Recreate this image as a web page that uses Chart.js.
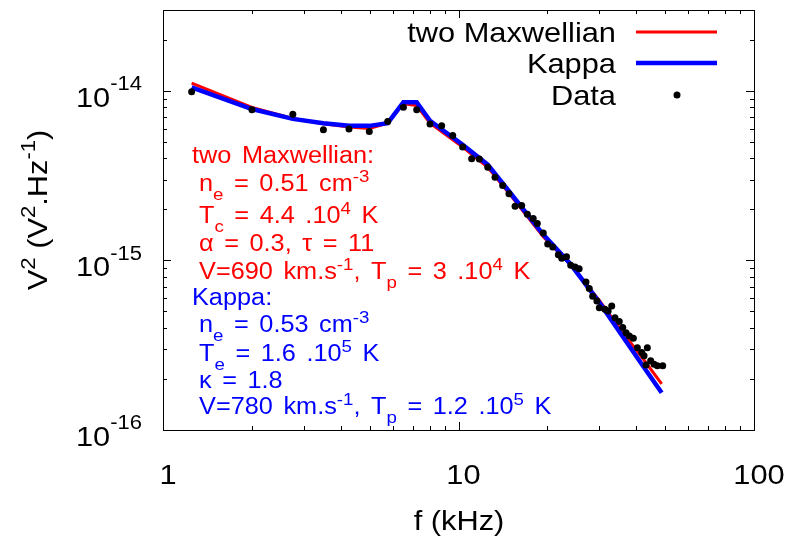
<!DOCTYPE html>
<html>
<head>
<meta charset="utf-8">
<script src="https://cdn.jsdelivr.net/npm/chart.js@4.4.1/dist/chart.umd.min.js"></script>
<style>
  html, body { margin: 0; padding: 0; background: #fff; }
  #wrap { width: 789px; height: 538px; }
</style>
</head>
<body>
<div id="wrap"><canvas id="spec" width="789" height="538"></canvas></div>
<script>
// measured spectrum (f in kHz, V^2/Hz)
const dataFreq = [1.25, 2.0, 2.75, 3.49, 4.26, 4.99, 5.76, 6.51, 7.22, 8.01,
    8.77, 9.56, 10.33, 11.08, 11.76, 12.56, 13.29, 14.11, 14.82, 15.54,
    16.36, 17.1, 17.9, 18.48, 19.36, 20.04, 20.84, 21.77, 22.35, 23.2,
    23.98, 24.8, 25.6, 27.0, 27.7, 28.45, 29.4, 29.96, 31.3, 32.1,
    33.0, 33.85, 35.0, 35.96, 36.9, 37.85, 39.05, 40.3, 41.7, 42.45,
    43.1, 43.55, 44.7, 45.9, 47.1, 49.1];
const dataPow = [9.9e-15, 7.73e-15, 7.28e-15, 5.9e-15, 5.97e-15, 5.77e-15, 6.6e-15, 8.0e-15, 7.73e-15, 6.37e-15,
    6.22e-15, 5.46e-15, 4.66e-15, 3.98e-15, 3.96e-15, 3.54e-15, 3.1e-15, 2.77e-15, 2.47e-15, 2.09e-15,
    2.11e-15, 1.87e-15, 1.77e-15, 1.65e-15, 1.45e-15, 1.25e-15, 1.2e-15, 1.08e-15, 1.03e-15, 1.05e-15,
    9.37e-16, 9.15e-16, 8.93e-16, 7.45e-16, 6.84e-16, 6.16e-16, 5.77e-16, 5.26e-16, 5.15e-16, 5.04e-16,
    5.38e-16, 4.59e-16, 4.36e-16, 4.02e-16, 3.75e-16, 3.59e-16, 3.48e-16, 3.06e-16, 2.86e-16, 2.74e-16,
    2.42e-16, 3.06e-16, 2.56e-16, 2.44e-16, 2.39e-16, 2.39e-16];

// fitted models
const modelFreq = [1.25, 2.0, 2.75, 3.49, 4.26, 4.99, 5.76, 6.51, 7.22, 8.01,
    10.33, 12.56, 14.82, 19.36, 24, 30, 36, 42, 48.7];
const maxwellPow = [1.11e-14, 8.0e-15, 6.87e-15, 6.4e-15, 6.12e-15, 6.0e-15, 6.45e-15, 8.4e-15, 8.2e-15, 6.45e-15,
    4.66e-15, 3.54e-15, 2.49e-15, 1.38e-15, 9.4e-16, 5.8e-16, 3.75e-16, 2.65e-16, 1.87e-16];
const kappaPow = [1.05e-14, 7.82e-15, 6.84e-15, 6.45e-15, 6.22e-15, 6.22e-15, 6.45e-15, 8.57e-15, 8.57e-15, 6.67e-15,
    4.81e-15, 3.67e-15, 2.56e-15, 1.42e-15, 9.46e-16, 5.64e-16, 3.55e-16, 2.4e-16, 1.66e-16];

// axis ticks
const xTickVals = [1, 10, 100];
const yTickExps = [-16, -15, -14];

const seriesLabels = ['two Maxwellian', 'Kappa', 'Data'];
const seriesColors = ['#ff0000', '#0000ff', '#000000'];

// annotation lines: plain strings, {s:..} subscript, {u:..} superscript
const maxwellNotes = [
    ['two Maxwellian:'],
    [' n', {s: 'e'}, ' = 0.51 cm', {u: '-3'}],
    [' T', {s: 'c'}, ' = 4.4 .10', {u: '4'}, ' K'],
    [' \u03b1 = 0.3, \u03c4 = 11'],
    [' V=690 km.s', {u: '-1'}, ', T', {s: 'p'}, ' = 3 .10', {u: '4'}, ' K']
];
const kappaNotes = [
    ['Kappa:'],
    [' n', {s: 'e'}, ' = 0.53 cm', {u: '-3'}],
    [' T', {s: 'e'}, ' = 1.6 .10', {u: '5'}, ' K'],
    [' \u03ba = 1.8'],
    [' V=780 km.s', {u: '-1'}, ', T', {s: 'p'}, ' = 1.2 .10', {u: '5'}, ' K']
];
const noteBaselines = [163, 191, 223, 251, 279, 305, 332, 361, 388, 414];

const FONT = '"Liberation Sans", Arial, Helvetica, sans-serif';
const STRETCH = 1.1;

// draws a run of text pieces; inner spaces can be widened by spaceExtra (px)
function drawRich(ctx, x, y, parts, size, color, align, supShift, subShift, spaceExtra) {
    const small = Math.round(size * 0.72);
    const extra = (spaceExtra || 0) / STRETCH;
    ctx.save();
    ctx.fillStyle = color;
    ctx.textBaseline = 'alphabetic';
    ctx.textAlign = 'left';
    const items = parts.map(p => {
        if (typeof p === 'string') return { t: p, f: size, dy: 0 };
        if (p.u !== undefined) return { t: p.u, f: small, dy: -size * supShift };
        return { t: p.s, f: small, dy: size * subShift };
    });
    // split into glyph chunks so inner spaces can be widened
    const chunks = [];
    items.forEach((it, k) => {
        ctx.font = it.f + 'px ' + FONT;
        const pieces = it.t.split(/( )/);
        pieces.forEach((pc, j) => {
            if (pc === '') return;
            let w = ctx.measureText(pc).width;
            const leading = (k === 0 && chunks.every(c => c.t === ' '));
            if (pc === ' ' && !leading) w += extra;
            chunks.push({ t: pc, f: it.f, dy: it.dy, w: w });
        });
    });
    const total = chunks.reduce((s, c) => s + c.w, 0);
    let sx = x;
    if (align === 'right') sx = x - total * STRETCH;
    if (align === 'center') sx = x - total * STRETCH / 2;
    ctx.translate(sx, y);
    ctx.scale(STRETCH, 1);
    let cx = 0;
    chunks.forEach(c => {
        if (c.t !== ' ') {
            ctx.font = c.f + 'px ' + FONT;
            ctx.fillText(c.t, cx, c.dy);
        }
        cx += c.w;
    });
    ctx.restore();
}

// frame, inward ticks, tick labels, titles, legend, notes
const gnuFrame = {
    id: 'gnuFrame',
    afterDatasetsDraw(chart) {
        const ctx = chart.ctx;
        const a = chart.chartArea;
        const xs = chart.scales.x, ys = chart.scales.y;

        ctx.save();
        ctx.strokeStyle = '#000';
        ctx.lineWidth = 1;
        ctx.strokeRect(a.left + 0.5, a.top + 0.5, a.right - a.left, a.bottom - a.top);

        const tick = (px, len, horiz) => {
            ctx.beginPath();
            if (horiz) {
                ctx.moveTo(px, a.bottom); ctx.lineTo(px, a.bottom - len);
                ctx.moveTo(px, a.top); ctx.lineTo(px, a.top + len);
            } else {
                ctx.moveTo(a.left, px); ctx.lineTo(a.left + len, px);
                ctx.moveTo(a.right, px); ctx.lineTo(a.right - len, px);
            }
            ctx.stroke();
        };

        // x ticks
        [1, 10].forEach(dec => {
            for (let m = 1; m <= 9; m++) {
                const v = dec * m;
                tick(Math.round(xs.getPixelForValue(v)) + 0.5, m === 1 ? 8 : 4, true);
            }
        });
        tick(Math.round(xs.getPixelForValue(100)) + 0.5, 8, true);

        // y ticks
        yTickExps.forEach(e => {
            for (let m = 1; m <= 9; m++) {
                const v = m * Math.pow(10, e);
                if (v > ys.max * 0.999) continue;
                tick(Math.round(ys.getPixelForValue(v)) + 0.5, m === 1 ? 8 : 4, false);
            }
        });
        ctx.restore();

        // tick labels
        xTickVals.forEach(v => {
            drawRich(ctx, xs.getPixelForValue(v) + 5, 484, [String(v)], 28, '#000', 'center', 0.6, 0.3);
        });
        yTickExps.forEach(e => {
            drawRich(ctx, 142, ys.getPixelForValue(Math.pow(10, e)) + 16, ['10', {u: String(e)}], 28, '#000', 'right', 0.6, 0.3);
        });

        // axis titles
        drawRich(ctx, 459, 530, ['f (kHz)'], 28, '#000', 'center', 0.42, 0.3);
        ctx.save();
        ctx.translate(47, 210);
        ctx.rotate(-Math.PI / 2);
        drawRich(ctx, 0, 0, ['V', {u: '2'}, ' (V', {u: '2'}, '.Hz', {u: '-1'}, ')'], 28, '#000', 'center', 0.43, 0.3);
        ctx.restore();

        // legend
        const legY = [32, 63, 95];
        seriesLabels.forEach((lab, i) => {
            drawRich(ctx, 616, legY[i] + 10, [lab], 28, '#000', 'right', 0.4, 0.3);
        });
        ctx.save();
        ctx.strokeStyle = seriesColors[0];
        ctx.lineWidth = 3;
        ctx.beginPath(); ctx.moveTo(636, legY[0]); ctx.lineTo(717, legY[0]); ctx.stroke();
        ctx.strokeStyle = seriesColors[1];
        ctx.lineWidth = 4.5;
        ctx.beginPath(); ctx.moveTo(636, legY[1]); ctx.lineTo(717, legY[1]); ctx.stroke();
        ctx.fillStyle = seriesColors[2];
        ctx.beginPath(); ctx.arc(677, legY[2], 3.5, 0, Math.PI * 2); ctx.fill();
        ctx.restore();

        // fit parameters
        const notes = maxwellNotes.concat(kappaNotes);
        notes.forEach((line, i) => {
            const col = i < maxwellNotes.length ? seriesColors[0] : seriesColors[1];
            drawRich(ctx, 192, noteBaselines[i], line, 23, col, 'left', 0.4, 0.4, 3.5);
        });
    }
};

const toPts = (xs, ys) => xs.map((x, i) => ({ x: x, y: ys[i] }));

new Chart(document.getElementById('spec'), {
    type: 'scatter',
    data: {
        datasets: [
            {
                label: seriesLabels[2],
                data: toPts(dataFreq, dataPow),
                backgroundColor: seriesColors[2],
                borderColor: seriesColors[2],
                pointRadius: 3.5,
                borderWidth: 0,
                showLine: false,
                order: 0
            },
            {
                label: seriesLabels[1],
                data: toPts(modelFreq, kappaPow),
                borderColor: seriesColors[1],
                borderWidth: 4.5,
                pointRadius: 0,
                showLine: true,
                tension: 0,
                order: 1
            },
            {
                label: seriesLabels[0],
                data: toPts(modelFreq, maxwellPow),
                borderColor: seriesColors[0],
                borderWidth: 3,
                pointRadius: 0,
                showLine: true,
                tension: 0,
                order: 2
            }
        ]
    },
    options: {
        responsive: false,
        animation: false,
        events: [],
        layout: { padding: { left: 163, right: 35, top: 10, bottom: 108 } },
        plugins: { legend: { display: false }, tooltip: { enabled: false } },
        scales: {
            x: {
                type: 'logarithmic', min: 1, max: 100,
                ticks: { display: false },
                grid: { display: false, drawTicks: false },
                border: { display: false },
                afterFit: s => { s.height = 0; }
            },
            y: {
                type: 'logarithmic', min: 1e-16, max: 3e-14,
                ticks: { display: false },
                grid: { display: false, drawTicks: false },
                border: { display: false },
                afterFit: s => { s.width = 0; }
            }
        }
    },
    plugins: [gnuFrame]
});
</script>
</body>
</html>
